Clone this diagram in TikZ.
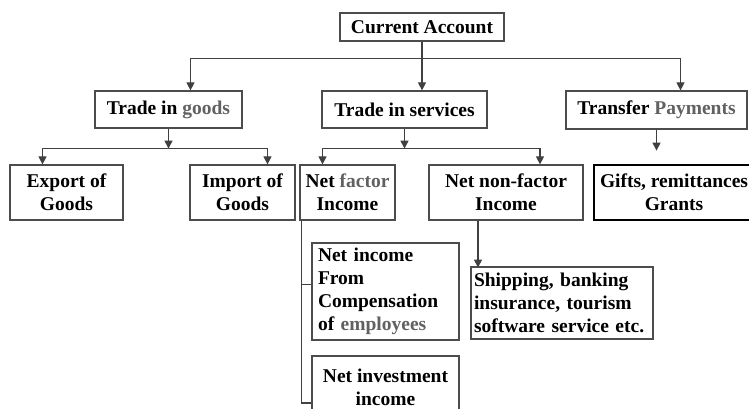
\documentclass[tikz,border=0pt]{standalone}
\usepackage{fontspec}
\setmainfont{Liberation Serif}
\usetikzlibrary{arrows.meta}
\newcommand\pale[1]{\textcolor{black!62}{#1}}
\begin{document}
\begin{tikzpicture}[x=1pt,y=-1pt,
  box/.style={draw=black!70,line width=1.2pt,inner sep=2pt,align=center,
    font=\bfseries\fontsize{19.5}{23}\selectfont},
  wire/.style={draw=black!75,line width=1.1pt},
  arr/.style={wire,-{Triangle[length=8pt,width=8pt]}}]
\useasboundingbox[fill=white] (0,0) rectangle (749,409);
\node[box,minimum width=164pt,minimum height=28pt] (ca) at (422,27) {Current Account};
\node[box,minimum width=147pt,minimum height=37pt] (tg) at (168.5,109.5) {Trade in \pale{goods}};
\node[box,minimum width=165pt,minimum height=37pt] (ts) at (404.5,109.5) {Trade in services};
\node[box,minimum width=181pt,minimum height=38pt] (tp) at (656.5,110) {Transfer \pale{Payments}};
\node[box,minimum width=113pt,minimum height=55pt] (ex) at (66.5,192.5) {Export of\\Goods};
\node[box,minimum width=105pt,minimum height=55pt] (im) at (242.5,192.5) {Import of\\Goods};
\node[box,minimum width=95pt,minimum height=55pt,inner sep=1pt] (nf) at (347.5,192.5) {Net \pale{factor}\\Income};
\node[box,minimum width=154pt,minimum height=55pt] (nn) at (506,192.5) {Net non-factor\\Income};
\node[box,draw=black,line width=2pt,minimum width=160pt,minimum height=55pt,inner sep=1pt] (gf) at (674,192.5) {Gifts, remittances\\Grants};
\node[box,align=left,text width=135pt,inner xsep=6pt,minimum height=97pt] (ni) at (385.5,291.5) {Net income\\From\\Compensation\\of \pale{employees}};
\node[box,minimum width=147pt,minimum height=62pt] (nv) at (385.5,387) {Net investment\\income};
\node[box,align=left,text width=176pt,inner xsep=3pt,minimum height=72pt] (sh) at (562,303) {Shipping, banking\\insurance, tourism\\software service etc.};

\draw[arr] (ca.south) -- (ca.south |- ts.north);
\path (ca.south) ++(0,17) coordinate (top);
\draw[arr] (top) -| ([xshift=22pt]tg.north);
\draw[arr] (top) -| ([xshift=24pt]tp.north);
\draw[arr] (tg.south) -- ++(0,20) coordinate (gbus);
\draw[arr] (gbus) -| ([xshift=-24pt]ex.north);
\draw[arr] (gbus) -| ([xshift=25pt]im.north);
\draw[arr] (ts.south) -- ++(0,20) coordinate (sbus);
\draw[arr] (sbus) -| ([xshift=-25pt]nf.north);
\draw[arr] (sbus) -| ([xshift=34pt]nn.north);
\draw[arr] (tp.south) -- ++(0,21) coordinate (tpend);
\draw[wire] ([xshift=2pt]nf.south west) |- ([yshift=-16pt]nv.west);
\draw[wire] ([yshift=7pt]ni.west) -- ++(-10,0);
\draw[arr] ([xshift=-28pt]nn.south) -- ++(0,47);
\end{tikzpicture}
\end{document}
